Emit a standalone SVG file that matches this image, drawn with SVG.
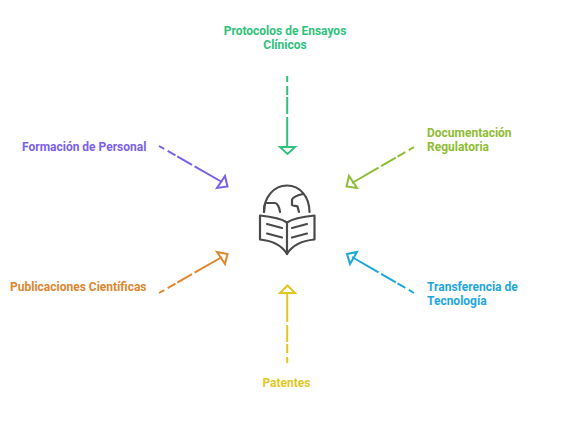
<svg xmlns="http://www.w3.org/2000/svg" width="574" height="443" viewBox="0 0 574 443">
<style>
text{font-family:Roboto,"Liberation Sans",sans-serif;font-size:12px;font-weight:700}
.c{fill:none;stroke-width:2}
.h{fill:none;stroke-width:2;stroke-linejoin:miter}
.d{stroke-dasharray:6 4 9 2 17 3 40}
.i{fill:none;stroke:#4a4a4a;stroke-width:2.2;stroke-linecap:round;stroke-linejoin:round}
</style>
<rect width="574" height="443" fill="#fff"/>
<g id="connectors">
<g stroke="#30c27c"><path class="c d" d="M287.200 76V147"/><path class="h" d="M280 147H295L287.500 154Z"/></g>
<g stroke="#7b61e8"><path class="c d" d="M159 146L222 182"/><path class="h" d="M225 176L227.500 186.500L217 188Z"/></g>
<g stroke="#8fbc35"><path class="c d" d="M414 147L352 183"/><path class="h" d="M349 176L346.500 186.500L357 188Z"/></g>
<g stroke="#1da6dc"><path class="c d" d="M414 293L352 257"/><path class="h" d="M347 254L357 252L350 264Z"/></g>
<g stroke="#e0862f"><path class="c d" d="M159 293L222 257"/><path class="h" d="M217 252L227.500 254L225 264Z"/></g>
<g stroke="#e2c71f"><path class="c d" d="M287.200 363V293"/><path class="h" d="M280 293H295L287.500 285.500Z"/></g>
</g>
<g id="center-icon" class="i">
<path d="M264 212C264 197 274 185.500 287 185.500C300 185.500 309.500 197 309.500 212"/>
<path d="M264 212C264.300 207 264.500 203 266 203H275C277 203 279.500 207 280 212"/>
<path d="M303 194C297 195 292 198 292 200V205C293 206.500 296 205.500 297.500 206.500L299 212"/>
<path d="M287 222.500C282 219 270 216.500 260 215.500V239.500C270 240.500 281 244 287 254C293 244 304 240.500 314.500 239.500V215.500C304 216.500 292 219 287 222.500Z"/>
<path d="M287 222.500V254"/>
<path d="M267 224L282 228M267 233.500L282 237.500M292 228L307 224M292 237.500L307 233.500"/>
</g>
<g id="node-protocolos"><text x="285" y="35" text-anchor="middle" fill="#30c27c">Protocolos de Ensayos</text><text x="285" y="49" text-anchor="middle" fill="#30c27c">Clínicos</text></g>
<g id="node-formacion"><text x="22" y="151" fill="#7b61e8">Formación de Personal</text></g>
<g id="node-documentacion"><text x="427" y="137" fill="#8fbc35">Documentación</text><text x="427" y="151" fill="#8fbc35">Regulatoria</text></g>
<g id="node-transferencia"><text x="427" y="291" fill="#1da6dc">Transferencia de</text><text x="427" y="305" fill="#1da6dc">Tecnología</text></g>
<g id="node-publicaciones"><text x="10" y="291" fill="#e0862f">Publicaciones Científicas</text></g>
<g id="node-patentes"><text x="286.500" y="387" text-anchor="middle" fill="#e2c71f">Patentes</text></g>
</svg>
